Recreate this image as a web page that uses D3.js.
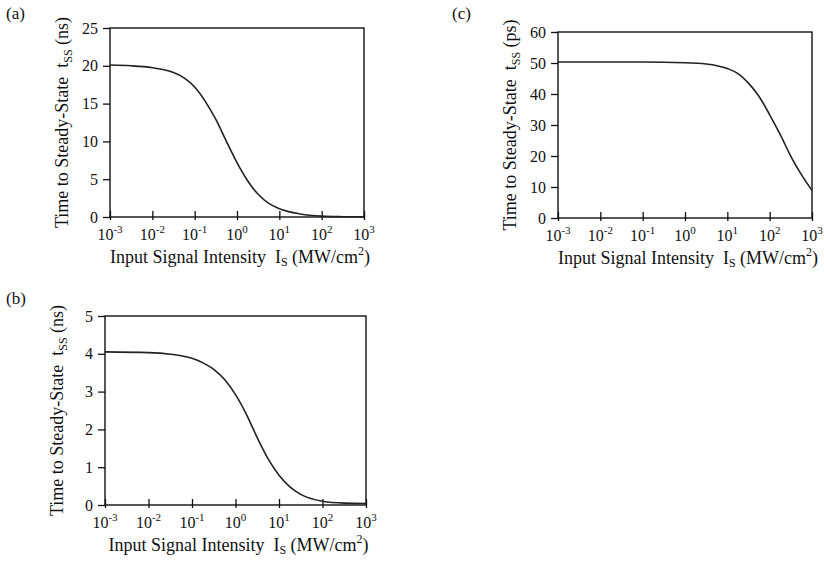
<!DOCTYPE html>
<html>
<head>
<meta charset="utf-8">
<script src="https://cdn.jsdelivr.net/npm/d3@7"></script>
<style>
  body { margin: 0; background: #fff; }
  svg { font-family: "Liberation Serif", "Times New Roman", serif; }
</style>
</head>
<body>
<svg id="chart" width="824" height="564"></svg>
<script>
// decade exponents used for the x ticks of every panel
const decadeExps = [-3, -2, -1, 0, 1, 2, 3];

// panel (a): values (ns)
const intensityA = [0.001, 0.00316, 0.01, 0.0178, 0.0316, 0.0562, 0.1, 0.178, 0.316, 0.562, 1, 1.78, 3.16, 5.62, 10, 31.6, 100, 316, 1000];
const tssA = [20.1, 20.0, 19.75, 19.5, 19.1, 18.4, 17.2, 15.3, 12.9, 10.0, 7.2, 4.8, 3.0, 1.8, 1.1, 0.4, 0.12, 0.04, 0.01];
const yTicksA = [0, 5, 10, 15, 20, 25];

// panel (b) (ns)
const intensityB = [0.001, 0.01, 0.0316, 0.0562, 0.1, 0.178, 0.316, 0.562, 1, 1.78, 3.16, 5.62, 10, 17.8, 31.6, 100, 316, 1000];
const tssB = [4.05, 4.03, 3.99, 3.95, 3.88, 3.76, 3.59, 3.32, 2.92, 2.40, 1.78, 1.22, 0.79, 0.48, 0.28, 0.1, 0.05, 0.04];
const yTicksB = [0, 1, 2, 3, 4, 5];

// panel (c) (ps)
const intensityC = [0.001, 0.01, 0.1, 1, 3.16, 10, 17.8, 31.6, 56.2, 100, 178, 316, 562, 1000];
const tssC = [50.3, 50.3, 50.3, 50.1, 49.7, 48.2, 46.6, 43.5, 39.2, 33.3, 26.9, 19.9, 14.0, 8.9];
const yTicksC = [0, 10, 20, 30, 40, 50, 60];

const svg = d3.select("#chart");

const panels = [
  { tag: "(a)", tagX: 6, tagY: 19, left: 110, right: 364, top: 28, bottom: 217, unit: "ns",
    xs: intensityA, ys: tssA, ticks: yTicksA },
  { tag: "(c)", tagX: 452, tagY: 19, left: 558, right: 812, top: 32, bottom: 218, unit: "ps",
    xs: intensityC, ys: tssC, ticks: yTicksC },
  { tag: "(b)", tagX: 6, tagY: 304, left: 105, right: 366, top: 316, bottom: 505, unit: "ns",
    xs: intensityB, ys: tssB, ticks: yTicksB },
];

panels.forEach(drawPanel);

function drawPanel(p) {
  let x = d3.scaleLog().domain([1e-3, 1e3]).range([p.left, p.right]);
  let y = d3.scaleLinear().domain([0, d3.max(p.ticks)]).range([p.bottom, p.top]);
  let g = svg.append("g");

  //panel letter
  g.append("text").text(p.tag).attr("x", p.tagX).attr("y", p.tagY)
    .attr("font-size", 17).attr("fill", "#111");

  //y axis, ticks pointing outward
  let yAx = g.append("g")
    .attr("transform", "translate(" + p.left + ",0)")
    .call(d3.axisLeft(y).tickValues(p.ticks).tickSize(7).tickPadding(5).tickFormat(d3.format("d")));
  yAx.attr("font-size", 16).attr("font-family", null);
  yAx.select(".domain").remove();
  yAx.selectAll("line").attr("stroke", "#111").attr("stroke-width", 1.3);
  yAx.selectAll("text").attr("fill", "#111");

  //x axis, decade ticks pointing inward
  let xAx = g.append("g")
    .attr("transform", "translate(0," + p.bottom + ")")
    .call(d3.axisBottom(x).tickValues(decadeExps.map((e) => Math.pow(10, e))).tickSize(-6).tickFormat(""));
  xAx.select(".domain").remove();
  xAx.selectAll("line").attr("y1", 3).attr("stroke", "#111").attr("stroke-width", 1.3);

  let lbl = g.selectAll(".xlbl").data(decadeExps).enter().append("text")
    .attr("class", "xlbl")
    .attr("x", (d) => x(Math.pow(10, d)))
    .attr("y", p.bottom + 23)
    .attr("text-anchor", "middle")
    .attr("font-size", 16)
    .attr("fill", "#111");
  lbl.append("tspan").text("10");
  lbl.append("tspan").text((d) => d).attr("font-size", 11).attr("dy", -7);

  //frame
  g.append("rect")
    .attr("x", p.left).attr("y", p.top)
    .attr("width", p.right - p.left).attr("height", p.bottom - p.top)
    .attr("fill", "none").attr("stroke", "#111").attr("stroke-width", 1.4);

  //curve
  let line = d3.line()
    .x((d, i) => x(p.xs[i]))
    .y((d) => y(d))
    .curve(d3.curveMonotoneX);
  g.append("path").datum(p.ys)
    .attr("d", line)
    .attr("fill", "none").attr("stroke", "#222").attr("stroke-width", 1.6);

  //y title
  let yt = g.append("text")
    .attr("transform", "translate(" + (p.left - 42) + "," + (p.top + p.bottom) / 2 + ") rotate(-90)")
    .attr("text-anchor", "middle")
    .attr("font-size", 18)
    .attr("fill", "#111");
  yt.append("tspan").text("Time to Steady-State\u00a0 t");
  yt.append("tspan").text("SS").attr("font-size", 12).attr("dy", 4);
  yt.append("tspan").text(" (" + p.unit + ")").attr("dy", -4);

  //x title
  let xt = g.append("text")
    .attr("x", (p.left + p.right) / 2 + 3)
    .attr("y", p.bottom + 46)
    .attr("text-anchor", "middle")
    .attr("font-size", 18)
    .attr("fill", "#111");
  xt.append("tspan").text("Input Signal Intensity\u00a0 I");
  xt.append("tspan").text("S").attr("font-size", 12).attr("dy", 3);
  xt.append("tspan").text(" (MW/cm").attr("dy", -3);
  xt.append("tspan").text("2").attr("font-size", 12).attr("dy", -8);
  xt.append("tspan").text(")").attr("dy", 8);
}
</script>
</body>
</html>
